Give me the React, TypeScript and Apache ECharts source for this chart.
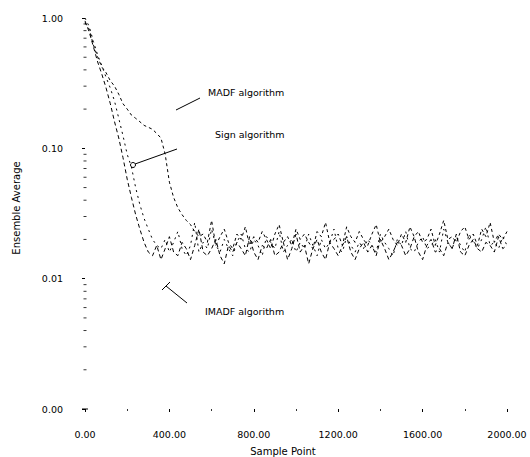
import React, { useEffect, useRef } from "react";
import * as echarts from "echarts";

const SAMPLE_STEP = 20;

const imadfValues = [
  0.95, 0.78, 0.6, 0.46, 0.37, 0.29, 0.22, 0.16, 0.12, 0.085, 0.058, 0.042, 0.031, 0.024, 0.019, 0.016,
  0.015, 0.018, 0.014, 0.017, 0.021, 0.016, 0.015, 0.019, 0.017, 0.014,
  0.018, 0.024, 0.016, 0.015, 0.017, 0.02, 0.015, 0.013, 0.018, 0.016,
  0.019, 0.017, 0.015, 0.021, 0.016, 0.014, 0.018, 0.017, 0.02, 0.015,
  0.016, 0.019, 0.014, 0.017, 0.022, 0.016, 0.018, 0.013, 0.017, 0.02,
  0.016, 0.014, 0.019, 0.017, 0.015, 0.018, 0.021, 0.016, 0.014, 0.017,
  0.019, 0.016, 0.018, 0.015, 0.02, 0.017, 0.014, 0.016, 0.019, 0.018,
  0.015, 0.017, 0.021, 0.016, 0.014, 0.018, 0.02, 0.016, 0.017, 0.015,
  0.019, 0.017, 0.022, 0.016, 0.015, 0.018, 0.02, 0.017, 0.016, 0.019,
  0.018, 0.016, 0.021, 0.017, 0.018,
];

const signValues = [
  1.0, 0.86, 0.66, 0.52, 0.43, 0.35, 0.29, 0.23, 0.17, 0.125, 0.09, 0.072, 0.05, 0.037, 0.029, 0.024, 0.02, 0.018,
  0.017, 0.02, 0.016, 0.019, 0.023, 0.017, 0.015, 0.018, 0.027, 0.016,
  0.019, 0.017, 0.024, 0.018, 0.016, 0.02, 0.017, 0.015, 0.019, 0.022,
  0.017, 0.016, 0.02, 0.018, 0.015, 0.021, 0.019, 0.017, 0.023, 0.016,
  0.018, 0.02, 0.016, 0.019, 0.017, 0.022, 0.018, 0.015, 0.02, 0.017,
  0.019, 0.024, 0.017, 0.016, 0.021, 0.018, 0.016, 0.019, 0.017, 0.02,
  0.018, 0.016, 0.022, 0.019, 0.017, 0.015, 0.02, 0.018, 0.023, 0.017,
  0.016, 0.019, 0.021, 0.017, 0.018, 0.02, 0.016, 0.024, 0.019, 0.017,
  0.021, 0.018, 0.016, 0.022, 0.019, 0.017, 0.02, 0.025, 0.018, 0.019,
  0.017, 0.021, 0.018,
];

const madfValues = [
  0.92, 0.82, 0.62, 0.5, 0.42, 0.38, 0.33, 0.3, 0.26, 0.22, 0.2, 0.18, 0.17, 0.16, 0.15, 0.145, 0.14, 0.13,
  0.12, 0.09, 0.055, 0.042, 0.035, 0.031, 0.028, 0.026, 0.023, 0.021,
  0.022, 0.019, 0.028, 0.018, 0.021, 0.024, 0.019, 0.017, 0.022, 0.02,
  0.025, 0.018, 0.021, 0.019, 0.023, 0.02, 0.017, 0.022, 0.026, 0.019,
  0.021, 0.018, 0.024, 0.02, 0.022, 0.019, 0.017, 0.023, 0.021, 0.027,
  0.019, 0.02, 0.022, 0.018, 0.025, 0.021, 0.019, 0.023, 0.02, 0.018,
  0.022, 0.026, 0.019, 0.021, 0.024, 0.02, 0.018, 0.022, 0.019, 0.025,
  0.021, 0.023, 0.019, 0.02, 0.024, 0.018, 0.022, 0.028, 0.02, 0.021,
  0.019, 0.023, 0.025, 0.02, 0.022, 0.018, 0.024, 0.021, 0.027, 0.019,
  0.022, 0.02, 0.023,
];

const yMinorTicks = [
  0.9, 0.8, 0.7, 0.6, 0.5, 0.4, 0.3, 0.2,
  0.09, 0.08, 0.07, 0.06, 0.05, 0.04, 0.03, 0.02,
  0.009, 0.008, 0.007, 0.006, 0.005, 0.004, 0.003, 0.002,
];

const toPairs = (vals: number[]) => vals.map((v, i) => [i * SAMPLE_STEP, v]);

const FONT = "DejaVu Sans";

export default function App() {
  const ref = useRef<HTMLDivElement>(null);
  useEffect(() => {
    if (!ref.current) return;
    const chart = echarts.init(ref.current, null, { renderer: "svg" });
    const lineBase = {
      type: "line" as const,
      showSymbol: false,
      symbol: "none",
      smooth: false,
      silent: true,
    };
    chart.setOption({
      animation: false,
      backgroundColor: "#ffffff",
      grid: { left: 85, right: 23, top: 18, bottom: 48, containLabel: false },
      xAxis: {
        type: "value",
        min: 0,
        max: 2000,
        interval: 400,
        axisLine: { show: false },
        axisTick: { show: true, length: 3, lineStyle: { color: "#000", width: 1 } },
        minorTick: { show: true, splitNumber: 2, length: 2, lineStyle: { color: "#333", width: 1 } },
        splitLine: { show: false },
        axisLabel: {
          formatter: (v: number) => v.toFixed(2),
          color: "#000",
          fontFamily: FONT,
          fontSize: 9.5,
          margin: 20,
        },
      },
      yAxis: {
        type: "log",
        logBase: 10,
        min: 0.001,
        max: 1,
        axisLine: { show: false },
        axisTick: { show: true, length: 3, inside: false, lineStyle: { color: "#000", width: 1 } },
        splitLine: { show: false },
        axisLabel: {
          formatter: (v: number) => v.toFixed(2),
          color: "#000",
          fontFamily: FONT,
          fontSize: 9.5,
          margin: 22,
        },
      },
      series: [
        {
          ...lineBase,
          name: "MADF algorithm",
          data: toPairs(madfValues),
          lineStyle: { color: "#000", width: 1, type: [3, 3] },
        },
        {
          ...lineBase,
          name: "Sign algorithm",
          data: toPairs(signValues),
          lineStyle: { color: "#000", width: 1, type: [2, 4] },
        },
        {
          ...lineBase,
          name: "IMADF algorithm",
          data: toPairs(imadfValues),
          lineStyle: { color: "#000", width: 1, type: [4, 3] },
        },
        {
          type: "scatter",
          name: "minorTicks",
          silent: true,
          clip: false,
          symbol: "rect",
          symbolSize: [3, 1],
          itemStyle: { color: "#000" },
          data: yMinorTicks.map((v) => [0, v]),
        },
      ],
      graphic: [
        {
          type: "text",
          rotation: Math.PI / 2,
          style: {
            text: "Ensemble Average",
            fontFamily: FONT,
            fontSize: 10,
            fill: "#000",
            align: "center",
            verticalAlign: "middle",
          },
          x: 16,
          y: 208,
        },
        {
          type: "text",
          x: 283,
          y: 451,
          style: {
            text: "Sample Point",
            fontFamily: FONT,
            fontSize: 10,
            fill: "#000",
            align: "center",
            verticalAlign: "middle",
          },
        },
        {
          type: "text",
          x: 208,
          y: 92,
          style: { text: "MADF algorithm", fontFamily: FONT, fontSize: 9.5, fill: "#000", verticalAlign: "middle" },
        },
        {
          type: "text",
          x: 215,
          y: 134,
          style: { text: "Sign algorithm", fontFamily: FONT, fontSize: 9.5, fill: "#000", verticalAlign: "middle" },
        },
        {
          type: "text",
          x: 205,
          y: 311,
          style: { text: "IMADF algorithm", fontFamily: FONT, fontSize: 9.5, fill: "#000", verticalAlign: "middle" },
        },
        {
          type: "line",
          shape: { x1: 176, y1: 110, x2: 200, y2: 98 },
          style: { stroke: "#000", lineWidth: 1 },
        },
        {
          type: "line",
          shape: { x1: 135, y1: 164, x2: 177, y2: 149 },
          style: { stroke: "#000", lineWidth: 1 },
        },
        {
          type: "circle",
          shape: { cx: 133, cy: 165, r: 2.5 },
          style: { stroke: "#000", fill: "none", lineWidth: 1 },
        },
        {
          type: "line",
          shape: { x1: 166, y1: 286, x2: 187, y2: 303 },
          style: { stroke: "#000", lineWidth: 1 },
        },
        {
          type: "line",
          shape: { x1: 162, y1: 290, x2: 170, y2: 282 },
          style: { stroke: "#000", lineWidth: 1 },
        },
        {
          type: "line",
          shape: { x1: 82, y1: 409, x2: 88, y2: 409 },
          style: { stroke: "#000", lineWidth: 1 },
        },
      ],
    });
    return () => chart.dispose();
  }, []);
  return <div ref={ref} style={{ width: 530, height: 457, position: "absolute", left: 0, top: 0 }} />;
}
